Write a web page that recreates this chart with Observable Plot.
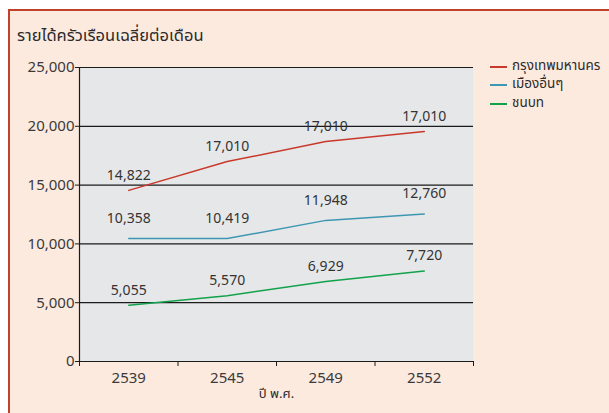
<!DOCTYPE html>
<html>
<head>
<meta charset="utf-8">
<script src="https://cdn.jsdelivr.net/npm/d3@7"></script>
<script src="https://cdn.jsdelivr.net/npm/@observablehq/plot@0.6"></script>
<style>
  html, body { margin: 0; padding: 0; background: #fff; }
  #page { position: relative; width: 609px; height: 413px; overflow: hidden; font-family: "Noto Sans Thai", "Noto Sans", "DejaVu Sans", sans-serif; }
  #bg { position: absolute; left: 8px; top: 9px; width: 700px; height: 500px; background: #fdeadf; border-top: 2px solid #c0422b; border-left: 2px solid #c0422b; }
  #title { position: relative; box-sizing: border-box; height: 50px; padding: 25px 0 0 17px; font-size: 16.5px; line-height: 22px; color: #2b2b2b; }
  #chart { position: relative; }
  #legend { position: absolute; left: 490px; top: 56.5px; font-size: 13.5px; color: #2b2b2b; }
  .row { position: relative; height: 18.5px; padding-left: 22px; }
  .sw { position: absolute; left: 0; top: 9px; width: 17px; height: 2px; }
  .lt { display: block; height: 18.5px; line-height: 18.5px; white-space: nowrap; }
</style>
</head>
<body>
<div id="page">
  <div id="bg"></div>
  <div id="title"></div>
  <div id="chart"></div>
  <div id="legend"></div>
</div>
<script>
const titleText = "รายได้ครัวเรือนเฉลี่ยต่อเดือน";
const xLabel = "ปี พ.ศ.";
const years = ["2539", "2545", "2549", "2552"];
const seriesNames = ["กรุงเทพมหานคร", "เมืองอื่นๆ", "ชนบท"];
const bangkok = [14550, 17000, 18700, 19550];
const otherCities = [10450, 10450, 12000, 12550];
const rural = [4780, 5600, 6800, 7700];
const bangkokLabels = [14822, 17010, 17010, 17010];
const otherCitiesLabels = [10358, 10419, 11948, 12760];
const ruralLabels = [5055, 5570, 6929, 7720];
const yTicks = [0, 5000, 10000, 15000, 20000, 25000];
const colors = ["#c9392b", "#3d97b2", "#12a24b"];

const values = [bangkok, otherCities, rural];
const labels = [bangkokLabels, otherCitiesLabels, ruralLabels];
const rows = seriesNames.flatMap((s, k) => years.map((yr, i) => ({
  series: s, k, i, year: yr, value: values[k][i], label: labels[k][i]
})));

const fmt = d3.format(",");
const labelDy = [-15, -20, -15];

document.getElementById("title").textContent = titleText;

const chart = Plot.plot({
  width: 609,
  height: 363,
  marginTop: 17,
  marginLeft: 79,
  marginRight: 136,
  marginBottom: 52,
  style: { background: "transparent", fontFamily: "'Noto Sans', 'Noto Sans Thai', sans-serif", fontSize: "15px", color: "#333", overflow: "visible" },
  x: { domain: [0, years.length] },
  y: { domain: [0, 25000] },
  color: { domain: seriesNames, range: colors },
  marks: [
    Plot.frame({ fill: "#e6e7e9", stroke: null }),
    Plot.ruleY(yTicks, { stroke: "#1b1b1b", strokeWidth: 1.2 }),
    Plot.ruleX([0], { stroke: "#1b1b1b", strokeWidth: 1.2 }),
    Plot.axisY({ ticks: yTicks, tickFormat: fmt, tickSize: 4, tickPadding: 1, label: null, stroke: "#1b1b1b", fill: "#3a3a3a" }),
    Plot.axisX({ ticks: d3.range(years.length + 1), tickFormat: () => "", tickSize: 5, label: null, stroke: "#1b1b1b" }),
    Plot.axisX({ ticks: years.map((_, i) => i + 0.5), tickFormat: t => years[Math.floor(t)], tickSize: 0, tickPadding: 11, label: null, fill: "#3a3a3a" }),
    Plot.line(rows, { x: d => d.i + 0.5, y: "value", z: "series", stroke: "series", strokeWidth: 1.5 }),
    ...seriesNames.map((s, k) => Plot.text(rows.filter(d => d.k === k), {
      x: d => d.i + 0.5, y: "value", text: d => fmt(d.label), dy: labelDy[k], fontSize: 14, fill: "#333"
    })),
    Plot.text([xLabel], { frameAnchor: "bottom", dy: 36, fontSize: 13, fill: "#2b2b2b", fontFamily: "'Noto Sans Thai', sans-serif" })
  ]
});
document.getElementById("chart").appendChild(chart);

const legend = document.getElementById("legend");
seriesNames.forEach((s, k) => {
  const row = document.createElement("div");
  row.className = "row";
  const sw = document.createElement("div");
  sw.className = "sw";
  sw.style.background = colors[k];
  const t = document.createElement("span");
  t.className = "lt";
  t.textContent = s;
  row.appendChild(sw);
  row.appendChild(t);
  legend.appendChild(row);
});
</script>
</body>
</html>
